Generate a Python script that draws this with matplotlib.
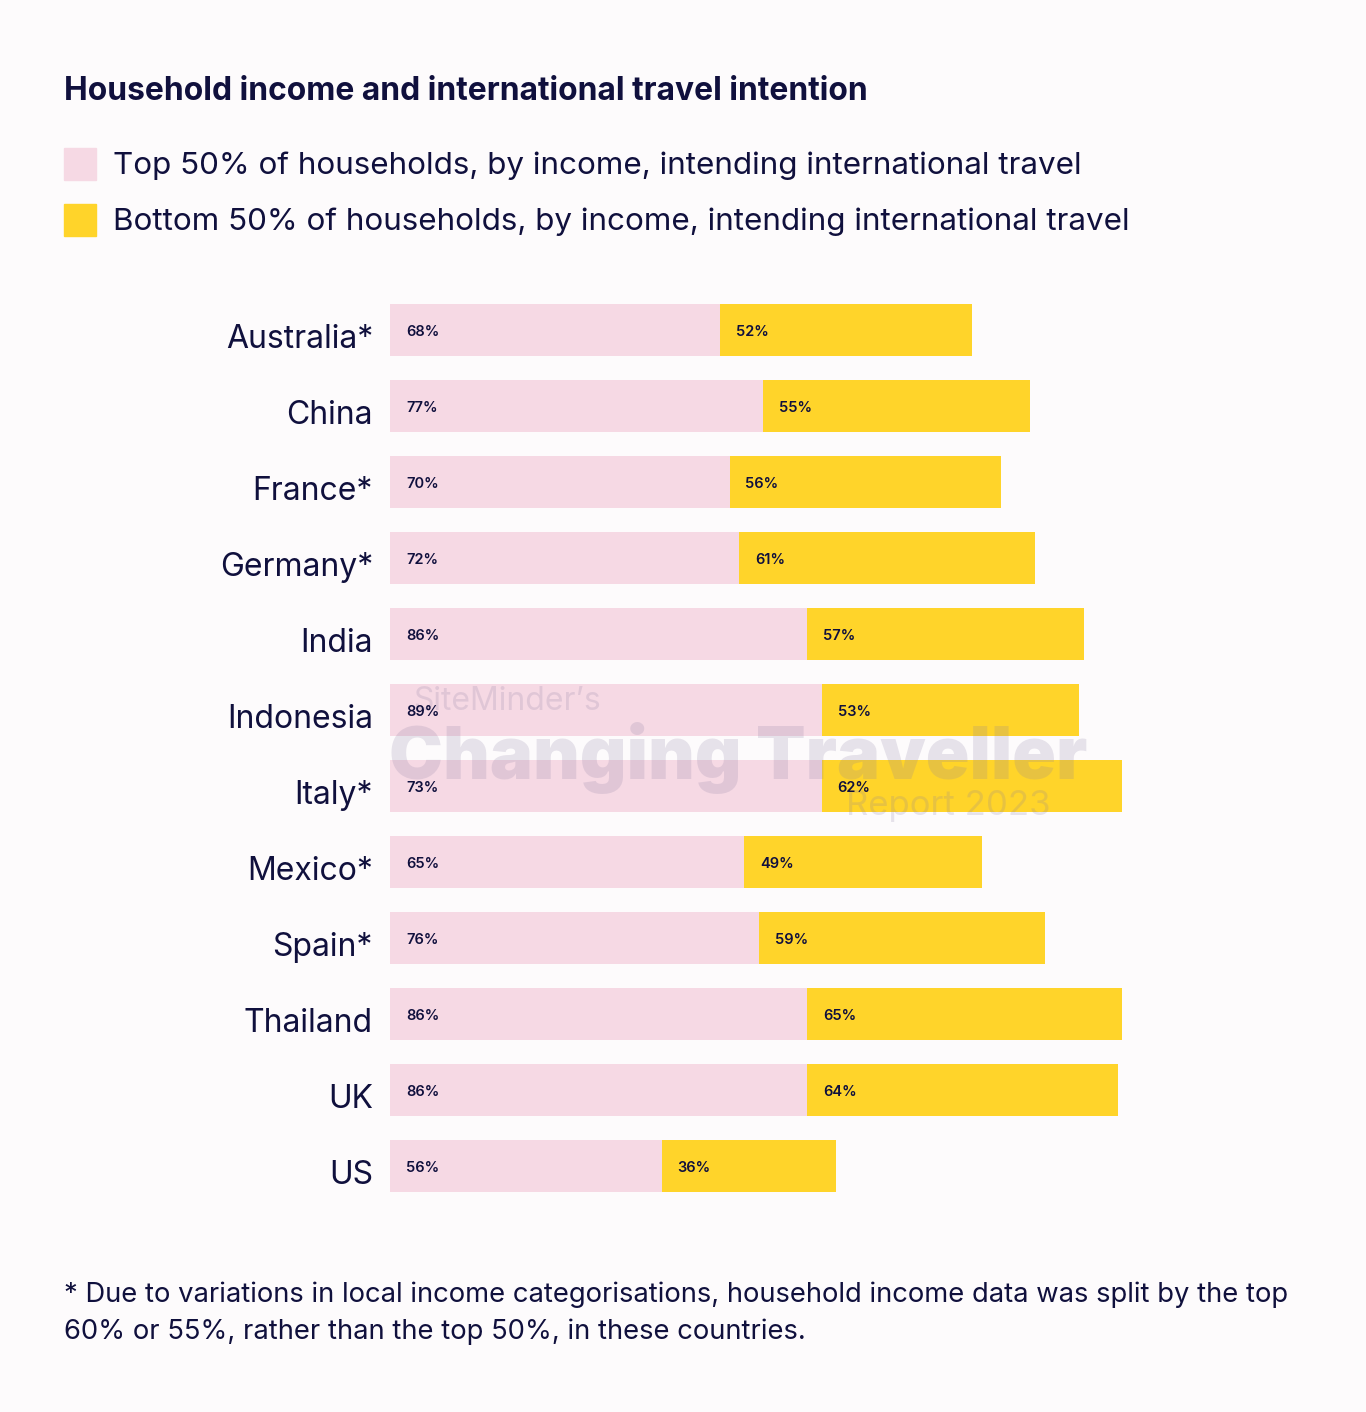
import matplotlib
matplotlib.use("Agg")
import matplotlib.pyplot as plt
from matplotlib.patches import Rectangle

# data (bar lengths as drawn in the source; printed labels kept separately)
countries = ["Australia*", "China", "France*", "Germany*", "India", "Indonesia",
             "Italy*", "Mexico*", "Spain*", "Thailand", "UK", "US"]
top_labels = [68, 77, 70, 72, 86, 89, 73, 65, 76, 86, 86, 56]
top_lengths = [68, 77, 70, 72, 86, 89, 89, 73, 76, 86, 86, 56]
bottom_values = [52, 55, 56, 61, 57, 53, 62, 49, 59, 65, 64, 36]

PINK = "#f6d9e4"
YELLOW = "#ffd42a"
NAVY = "#10103d"
BG = "#fdfbfc"
FONT = ["Inter", "DejaVu Sans"]

W, H = 1366, 1412
fig = plt.figure(figsize=(W / 100, H / 100), dpi=100, facecolor=BG)
plt.rcParams["font.family"] = FONT


def px(x, y):
    return x / W, 1 - y / H


# bar axes: origin at x=390px, 4.85 px per percent
x0, top, bot = 390, 292, 1204
ax = fig.add_axes([x0 / W, 1 - bot / H, 970 / W, (bot - top) / H])
ax.set_facecolor("none")
ax.set_xlim(0, 970 / 4.85)
ax.set_ylim(len(countries) - 0.5, -0.5)
ax.axis("off")

ys = range(len(countries))
ax.barh(ys, top_lengths, height=0.684, color=PINK, zorder=2)
ax.barh(ys, bottom_values, left=top_lengths, height=0.684, color=YELLOW, zorder=2)
off = 16 / 4.85
for i, c in enumerate(countries):
    ax.text(off, i + 0.03, f"{top_labels[i]}%", fontsize=10.5, fontweight="semibold",
            color=NAVY, va="center", ha="left", zorder=4)
    ax.text(top_lengths[i] + off, i + 0.03, f"{bottom_values[i]}%", fontsize=10.5,
            fontweight="semibold", color=NAVY, va="center", ha="left", zorder=4)
    ax.text(-17 / 4.85, i + 0.12, c, fontsize=23, color=NAVY, va="center",
            ha="right", clip_on=False)

# watermark
wm = dict(color="#8a7ea2", alpha=0.2, zorder=3)
ax.text(*px(413, 701), "SiteMinder\u2019s", transform=fig.transFigure, fontsize=23,
        va="center", ha="left", **wm)
ax.text(*px(389, 758), "Changing Traveller", transform=fig.transFigure, fontsize=52,
        fontweight="black", va="center", ha="left", **wm)
ax.text(*px(846, 806), "Report 2023", transform=fig.transFigure, fontsize=25,
        va="center", ha="left", **wm)

# title and legend
fig.text(*px(64, 91), "Household income and international travel intention",
         fontsize=22.9, fontweight="bold", color=NAVY, va="center", ha="left")
legend = [(PINK, "Top 50% of households, by income, intending international travel", 164),
          (YELLOW, "Bottom 50% of households, by income, intending international travel", 220)]
for col, label, yc in legend:
    fig.patches.append(Rectangle(px(64, yc + 16), 32 / W, 32 / H, color=col,
                                 transform=fig.transFigure, figure=fig))
    fig.text(*px(113, yc + 2), label, fontsize=22.6, color=NAVY, va="center", ha="left")

# footnote
fig.text(*px(64, 1295), "* Due to variations in local income categorisations, household income data was split by the top",
         fontsize=19.7, color=NAVY, va="center", ha="left")
fig.text(*px(64, 1332), "60% or 55%, rather than the top 50%, in these countries.",
         fontsize=19.7, color=NAVY, va="center", ha="left")

fig.savefig("out.png", dpi=100, facecolor=BG)
